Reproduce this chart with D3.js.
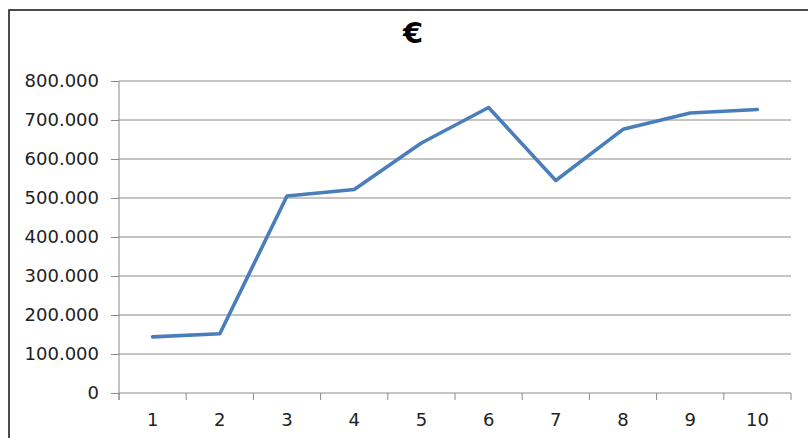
<!DOCTYPE html>
<html>
<head>
<meta charset="utf-8">
<script src="https://cdn.jsdelivr.net/npm/d3@7"></script>
<style>
  body { margin: 0; background: #fff; }
  text { font-family: "DejaVu Sans", sans-serif; fill: #222; }
</style>
</head>
<body>
<div id="chart"></div>
<script>
// data
var categories = ["1", "2", "3", "4", "5", "6", "7", "8", "9", "10"];
var values = [144000, 152000, 505000, 522000, 641000, 732000, 545000, 676000, 718000, 727000];
var yTicks = [0, 100000, 200000, 300000, 400000, 500000, 600000, 700000, 800000];
var title = "€";

var W = 808, H = 438;
var margin = { top: 81, right: 17, bottom: 45, left: 119 },
    width = W - margin.left - margin.right,
    height = H - margin.top - margin.bottom;

var locale = d3.formatLocale({ decimal: ",", thousands: ".", grouping: [3], currency: ["", "€"] });
var fmt = locale.format(",");

var x = d3.scaleBand().domain(categories).range([0, width]).padding(0);
var y = d3.scaleLinear().domain([0, 800000]).range([height, 0]);

var svg = d3.select("#chart").append("svg")
    .attr("width", W)
    .attr("height", H);

// chart border (right and bottom edges fall off the picture)
svg.append("rect")
    .attr("x", 9).attr("y", 10)
    .attr("width", 900).attr("height", 500)
    .attr("fill", "none")
    .attr("stroke", "#111")
    .attr("stroke-width", 1.5);

svg.append("text")
    .attr("x", 413)
    .attr("y", 43)
    .attr("text-anchor", "middle")
    .style("font-size", "29px")
    .style("font-weight", "bold")
    .style("fill", "#000")
    .text(title);

var g = svg.append("g")
    .attr("transform", "translate(" + margin.left + "," + margin.top + ")");

// gridlines
g.selectAll(".grid")
    .data(yTicks.filter(function (d) { return d > 0; }))
    .enter().append("line")
    .attr("class", "grid")
    .attr("x1", 0).attr("x2", width)
    .attr("y1", function (d) { return y(d); })
    .attr("y2", function (d) { return y(d); })
    .attr("stroke", "#8a8a8a")
    .attr("stroke-width", 1);

// y axis
var yAxis = g.append("g")
    .call(d3.axisLeft(y).tickValues(yTicks).tickFormat(fmt).tickSize(8).tickPadding(12));
yAxis.select(".domain").attr("stroke", "#8a8a8a").attr("d", "M0,0V" + (height + 7));
yAxis.selectAll(".tick line").attr("stroke", "#8a8a8a");
yAxis.selectAll("text").style("font-size", "18px").attr("fill", "#222");

// x axis
var xAxis = g.append("g")
    .attr("transform", "translate(0," + height + ")")
    .call(d3.axisBottom(x).tickSize(0).tickPadding(20));
xAxis.select(".domain").attr("stroke", "#8a8a8a").attr("d", "M0,0H" + width);
xAxis.selectAll("text").style("font-size", "18px").attr("fill", "#222");

// ticks between categories
g.selectAll(".xtick")
    .data(d3.range(categories.length + 1))
    .enter().append("line")
    .attr("class", "xtick")
    .attr("x1", function (i) { return i * x.bandwidth(); })
    .attr("x2", function (i) { return i * x.bandwidth(); })
    .attr("y1", height).attr("y2", height + 7)
    .attr("stroke", "#8a8a8a");

// the series line
var line = d3.line()
    .x(function (d, i) { return x(categories[i]) + x.bandwidth() / 2; })
    .y(function (d) { return y(d); });

g.append("path")
    .datum(values)
    .attr("d", line)
    .attr("fill", "none")
    .attr("stroke", "#4a7ebb")
    .attr("stroke-width", 3.6)
    .attr("stroke-linejoin", "round")
    .attr("stroke-linecap", "round");
</script>
</body>
</html>
